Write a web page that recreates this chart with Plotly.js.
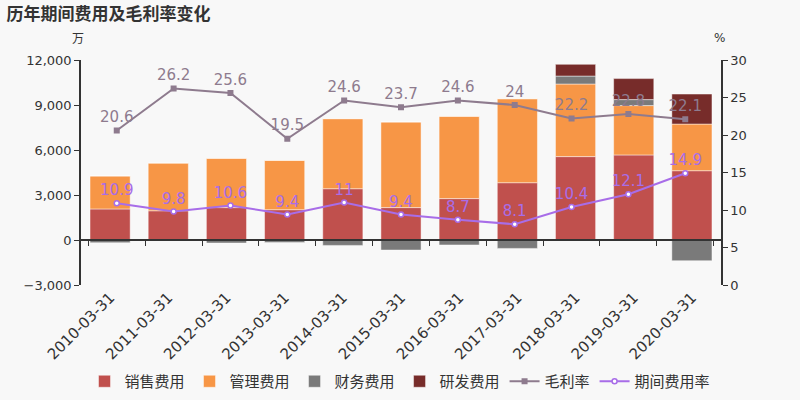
<!DOCTYPE html>
<html>
<head>
<meta charset="utf-8">
<script src="https://cdn.plot.ly/plotly-3.0.1.min.js"></script>
<style>
  body { margin: 0; background: #f8f8f8; }
  #chart { width: 800px; height: 400px; }
</style>
</head>
<body>
<div id="chart"></div>
<script>
const dates = ['2010-03-31', '2011-03-31', '2012-03-31', '2013-03-31', '2014-03-31', '2015-03-31', '2016-03-31', '2017-03-31', '2018-03-31', '2019-03-31', '2020-03-31']
const sales = [2070, 1950, 2160, 2020, 3420, 2160, 2760, 3820, 5560, 5670, 4620]
const admin = [2200, 3180, 3290, 3290, 4670, 5710, 5490, 5600, 4840, 3290, 3110]
const finance = [-180, -50, -200, -160, -360, -670, -330, -560, 530, 400, -1380]
const rnd = [0, 0, 0, 0, 0, 0, 0, 0, 780, 1400, 2000]
const grossMargin = [20.6, 26.2, 25.6, 19.5, 24.6, 23.7, 24.6, 24, 22.2, 22.8, 22.1]
const expenseRate = [10.9, 9.8, 10.6, 9.4, 11, 9.4, 8.7, 8.1, 10.4, 12.1, 14.9]

const font = 'DejaVu Sans, sans-serif'
const cjk = 'Noto Sans CJK SC, sans-serif'
const edge = { color: 'rgba(255,255,255,0.45)', width: 1 }

function barTrace(name, y, color) {
  return {
    x: dates,
    y: y,
    name: name,
    type: 'bar',
    marker: { color: color, line: edge },
    hoverinfo: 'y+name'
  }
}

var data = [
  barTrace('销售费用', sales, '#c0504d'),
  barTrace('管理费用', admin, '#f79646'),
  barTrace('财务费用', finance, '#7a7a7a'),
  barTrace('研发费用', rnd, '#772c2a'),
  {
    x: dates,
    y: grossMargin,
    name: '毛利率',
    type: 'scatter',
    mode: 'lines+markers+text',
    xaxis: 'x2',
    yaxis: 'y2',
    line: { color: '#8e7b8e', width: 2 },
    marker: { symbol: 'square', size: 6, color: '#8e7b8e' },
    text: grossMargin.map(String),
    textposition: 'top center',
    textfont: { family: font, size: 15, color: '#8e7b8e' }
  },
  {
    x: dates,
    y: expenseRate,
    name: '期间费用率',
    type: 'scatter',
    mode: 'lines+markers+text',
    xaxis: 'x2',
    yaxis: 'y2',
    line: { color: '#a86de8', width: 2 },
    marker: { symbol: 'circle', size: 5, color: '#ffffff', line: { color: '#a86de8', width: 1.5 } },
    text: expenseRate.map(String),
    textposition: 'top center',
    textfont: { family: font, size: 15, color: '#a86de8' }
  }
]

var layout = {
  width: 800,
  height: 400,
  barmode: 'relative',
  bargap: 0.31,
  paper_bgcolor: '#f8f8f8',
  plot_bgcolor: '#f8f8f8',
  font: { family: font, color: '#333' },
  margin: { l: 81, r: 79, t: 60, b: 115 },
  title: {
    text: '<b>历年期间费用及毛利率变化</b>',
    font: { family: cjk, size: 17, color: '#333' },
    x: 0.008, xanchor: 'left', y: 0.965, yanchor: 'middle'
  },
  showlegend: true,
  legend: {
    orientation: 'h',
    x: 0.5, xanchor: 'center',
    xref: 'container',
    y: 0.005, yanchor: 'bottom',
    yref: 'container',
    font: { family: cjk, size: 15, color: '#333' },
    itemwidth: 30,
    tracegroupgap: 0
  },
  xaxis: {
    type: 'category',
    showline: false,
    ticks: '',
    tickangle: -45,
    tickfont: { size: 15, color: '#333' },
    showgrid: false,
    zeroline: false
  },
  xaxis2: {
    type: 'category',
    overlaying: 'x',
    anchor: 'free',
    position: 0.2,
    showline: true,
    linecolor: '#333',
    linewidth: 1.5,
    ticks: 'outside',
    tickson: 'boundaries',
    ticklen: 5,
    tickcolor: '#333',
    showticklabels: false,
    showgrid: false
  },
  yaxis: {
    range: [-3000, 12000],
    tickvals: [-3000, 0, 3000, 6000, 9000, 12000],
    tickformat: ',d',
    showline: true,
    linecolor: '#333',
    linewidth: 1.5,
    ticks: 'outside',
    ticklen: 5,
    tickcolor: '#333',
    tickfont: { size: 13, color: '#333' },
    showgrid: false,
    zeroline: false
  },
  yaxis2: {
    overlaying: 'y',
    side: 'right',
    anchor: 'x',
    range: [0, 30],
    tickvals: [0, 5, 10, 15, 20, 25, 30],
    showline: true,
    linecolor: '#333',
    linewidth: 1.5,
    ticks: 'outside',
    ticklen: 5,
    tickcolor: '#333',
    tickfont: { size: 13, color: '#333' },
    showgrid: false,
    zeroline: false
  },
  annotations: [
    { text: '万', xref: 'paper', yref: 'paper', x: -0.005, y: 1.098, xanchor: 'center', yanchor: 'middle', showarrow: false, font: { family: cjk, size: 12, color: '#333' } },
    { text: '%', xref: 'paper', yref: 'paper', x: 0.998, y: 1.098, xanchor: 'center', yanchor: 'middle', showarrow: false, font: { size: 12, color: '#333' } }
  ]
}

Plotly.newPlot('chart', data, layout, { displayModeBar: false })
</script>
</body>
</html>
